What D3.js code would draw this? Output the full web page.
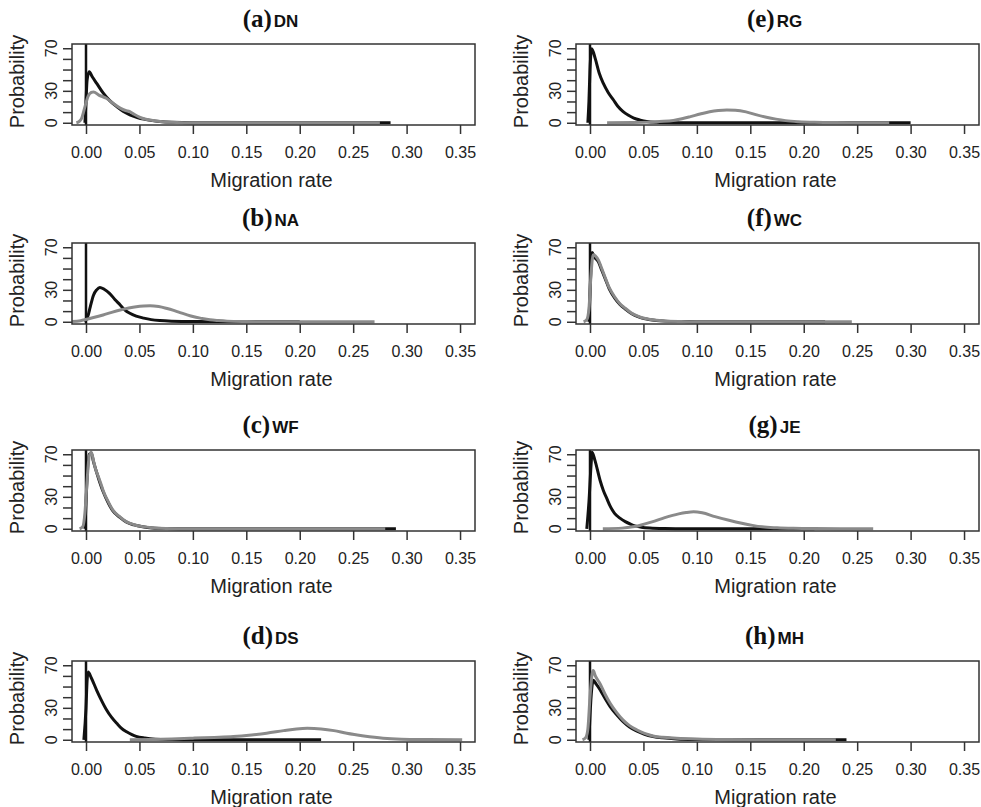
<!DOCTYPE html>
<html>
<head>
<meta charset="utf-8">
<script src="https://cdn.jsdelivr.net/npm/d3@7"></script>
<style>
  body { margin: 0; background: #fff; }
  svg { display: block; }
  .tick line { stroke: #333; stroke-width: 1.5; }
  .tick text { font-family: "Liberation Sans", Arial, sans-serif; font-size: 16px; fill: #222; }
  .lab { font-family: "Liberation Sans", Arial, sans-serif; font-size: 20px; fill: #222; }
</style>
</head>
<body>
<svg id="chart" width="981" height="807"></svg>
<script>
// panel order: left column a-d, right column e-h
var panelLetters = ["a", "b", "c", "d", "e", "f", "g", "h"];
var panelCodes = ["DN", "NA", "WF", "DS", "RG", "WC", "JE", "MH"];

var xTicks = [0, 0.05, 0.10, 0.15, 0.20, 0.25, 0.30, 0.35];
var yTicks = [0, 10, 20, 30, 40, 50, 60, 70];
var yTickLabels = [0, 30, 70];

// [migration rate, probability density]
var dnBlack = [[-0.001,0],[0.000,20],[0.001,40],[0.003,48],[0.006,43],[0.010,37],[0.016,28],[0.022,21],[0.029,15],[0.035,10.5],[0.041,7.5],[0.048,5],[0.054,3.4],[0.062,2],[0.069,1.2],[0.080,0.5],[0.100,0.1],[0.285,0]];
var dnGray = [[-0.009,0],[-0.006,1.5],[-0.004,4.4],[-0.001,15],[0.002,25],[0.005,28.5],[0.007,29],[0.012,26],[0.019,23],[0.025,18.5],[0.032,13.7],[0.037,11.5],[0.041,10.5],[0.045,8],[0.050,5.3],[0.056,3.3],[0.063,2.1],[0.072,1],[0.085,0.3],[0.100,0.1],[0.275,0]];

var naBlack = [[-0.001,0],[0.002,6],[0.004,14],[0.007,25],[0.010,30],[0.013,32.3],[0.017,30.5],[0.022,26.7],[0.027,21],[0.032,15.8],[0.036,11.5],[0.041,8],[0.047,5.3],[0.054,3.4],[0.061,2],[0.069,1.1],[0.080,0.5],[0.100,0.15],[0.200,0]];
var naGray = [[-0.013,0.3],[-0.005,1],[0.0006,2.4],[0.008,4.2],[0.016,6.4],[0.024,8.8],[0.032,11],[0.040,12.9],[0.047,14.2],[0.054,14.9],[0.060,15.1],[0.068,14.3],[0.075,12.7],[0.082,10.7],[0.088,8.6],[0.094,6.7],[0.100,4.9],[0.108,3.2],[0.116,1.8],[0.124,1.1],[0.132,0.6],[0.150,0.2],[0.170,0],[0.270,0]];

var wfBlack = [[-0.001,0],[0.003,70],[0.005,71],[0.007,63],[0.0115,48],[0.016,35],[0.021,24],[0.025,17],[0.032,10.5],[0.038,6.2],[0.045,3.6],[0.053,1.9],[0.062,0.8],[0.075,0.3],[0.100,0.05],[0.290,0]];
var wfGray = [[-0.006,0],[-0.003,2],[-0.001,15],[0.001,45],[0.003,68],[0.005,72],[0.007,64],[0.009,56],[0.0115,49],[0.014,42],[0.016,36],[0.021,25],[0.025,17.7],[0.032,11],[0.038,6.5],[0.045,3.8],[0.053,2],[0.062,0.9],[0.075,0.3],[0.100,0.05],[0.280,0]];

var dsBlack = [[-0.002,0],[0.000,30],[0.001,55],[0.002,63.6],[0.005,58],[0.010,46.5],[0.014,38],[0.019,28.5],[0.024,21],[0.029,15.2],[0.033,11],[0.038,7.5],[0.043,4.8],[0.047,3.2],[0.055,1.6],[0.065,0.6],[0.080,0.2],[0.100,0],[0.220,0]];
var dsGray = [[0.041,0],[0.060,0.3],[0.080,0.8],[0.100,1.5],[0.120,2.2],[0.138,3],[0.155,4.5],[0.169,6.1],[0.185,8.6],[0.197,10.2],[0.207,10.8],[0.220,10.2],[0.232,8.6],[0.244,6.1],[0.260,3.6],[0.278,1.5],[0.295,0.6],[0.320,0.2],[0.352,0]];

var rgBlack = [[-0.002,0],[-0.001,20],[0.000,50],[0.0016,69.6],[0.005,60],[0.0085,47],[0.0125,37],[0.017,28.5],[0.022,21.4],[0.026,15.5],[0.031,10.5],[0.036,7],[0.041,4.4],[0.047,2.5],[0.053,1.2],[0.062,0.5],[0.080,0.1],[0.100,0],[0.300,0]];
var rgGray = [[0.016,0],[0.040,0.2],[0.055,0.6],[0.065,1.2],[0.078,2.2],[0.086,3.8],[0.094,5.8],[0.103,8.2],[0.112,10.4],[0.120,11.6],[0.128,12.1],[0.136,11.8],[0.146,10.2],[0.156,7.4],[0.165,5.2],[0.174,3.4],[0.183,2],[0.195,1],[0.210,0.4],[0.230,0.15],[0.280,0]];

var wcBlack = [[-0.001,0],[0.0005,40],[0.002,65],[0.004,61],[0.008,56],[0.011,48.5],[0.014,41],[0.018,31],[0.023,22.5],[0.028,16.3],[0.033,12],[0.038,8.2],[0.042,6],[0.048,3.7],[0.055,2.2],[0.062,1.2],[0.070,0.6],[0.085,0.2],[0.100,0.05],[0.220,0]];
var wcGray = [[-0.006,0],[-0.003,2],[-0.001,12],[0.001,45],[0.003,63],[0.005,62],[0.008,57.7],[0.011,50],[0.014,42],[0.018,32],[0.023,23.5],[0.028,17],[0.033,12.7],[0.038,8.8],[0.042,6.4],[0.048,4],[0.055,2.4],[0.062,1.4],[0.070,0.8],[0.085,0.3],[0.100,0.1],[0.245,0]];

var jeBlack = [[-0.003,0],[-0.001,25],[0.001,60],[0.002,72],[0.0047,64],[0.0094,45.6],[0.0125,36],[0.0157,28.5],[0.019,21],[0.023,14.5],[0.028,10],[0.033,6.7],[0.038,4.3],[0.042,2.7],[0.048,1.5],[0.056,0.7],[0.070,0.2],[0.090,0],[0.210,0]];
var jeGray = [[0.012,0],[0.030,0.6],[0.040,1.8],[0.048,3.6],[0.058,6.5],[0.070,10.5],[0.083,14],[0.090,15.3],[0.097,16],[0.105,15],[0.117,11.4],[0.130,8],[0.142,5.2],[0.152,3.2],[0.161,1.8],[0.175,0.9],[0.190,0.4],[0.210,0.15],[0.265,0]];

var mhBlack = [[-0.001,0],[0.001,40],[0.003,55.8],[0.006,52],[0.0094,47],[0.014,39],[0.019,31],[0.025,23.5],[0.031,17],[0.037,12],[0.044,8.2],[0.051,5.2],[0.059,3.1],[0.068,1.8],[0.081,0.8],[0.100,0.3],[0.130,0.05],[0.240,0]];
var mhGray = [[-0.007,0],[-0.004,2],[-0.002,10],[0.000,40],[0.002,62],[0.003,65],[0.005,60],[0.0094,52.7],[0.014,43],[0.019,34],[0.025,25.5],[0.031,18.5],[0.037,13.3],[0.044,9.2],[0.051,6],[0.059,3.6],[0.068,2.3],[0.081,1.5],[0.100,0.8],[0.130,0.3],[0.160,0.1],[0.230,0]];

var blackSeries = [dnBlack, naBlack, wfBlack, dsBlack, rgBlack, wcBlack, jeBlack, mhBlack];
var graySeries = [dnGray, naGray, wfGray, dsGray, rgGray, wcGray, jeGray, mhGray];

// layout
var colLeft = [72, 576];
var rowTop = [44, 243, 450, 661];
var boxW = 403, boxH = 81;

var svg = d3.select("#chart");

panelLetters.forEach(function(letter, i){
	var left = colLeft[Math.floor(i / 4)];
	var top = rowTop[i % 4];

	var xScale = d3.scaleLinear()
				.domain([-0.0131, 0.364])
				.range([0, boxW]);
	var yScale = d3.scaleLinear()
				.domain([-2.1, 74])
				.range([boxH, 0]);

	var g = svg.append("g")
		.attr("transform", "translate(" + left + "," + top + ")");

	g.append("clipPath")
		.attr("id", "clip" + i)
		.append("rect")
		.attr("width", boxW)
		.attr("height", boxH);

	// x axis
	var xAxis = d3.axisBottom(xScale)
				.tickValues(xTicks)
				.tickSize(9)
				.tickPadding(13)
				.tickFormat(d3.format(".2f"));
	var xa = g.append("g")
		.attr("transform", "translate(0," + boxH + ")")
		.call(xAxis);
	xa.select(".domain").remove();

	// y axis, labels rotated like R's default
	var yAxis = d3.axisLeft(yScale)
				.tickValues(yTicks)
				.tickSize(9)
				.tickFormat("");
	var ya = g.append("g").call(yAxis);
	ya.select(".domain").remove();

	g.selectAll(".ylab")
		.data(yTickLabels)
		.enter().append("text")
		.attr("class", "ylab")
		.attr("transform", function(d){ return "translate(-15," + yScale(d) + ") rotate(-90)"; })
		.attr("text-anchor", "middle")
		.style("font-family", "Liberation Sans, Arial, sans-serif")
		.style("font-size", "16px")
		.style("fill", "#222")
		.text(function(d){ return d; });

	var plot = g.append("g").attr("clip-path", "url(#clip" + i + ")");

	var line = d3.line()
		.x(function(d){ return xScale(d[0]); })
		.y(function(d){ return yScale(d[1]); })
		.curve(d3.curveMonotoneX);

	// spike of the black density at zero runs off the top
	plot.append("line")
		.attr("x1", xScale(0)).attr("x2", xScale(0))
		.attr("y1", yScale(-2.1)).attr("y2", yScale(74))
		.attr("stroke", "#111")
		.attr("stroke-width", 2.5);

	plot.append("path")
		.datum(blackSeries[i])
		.attr("d", line)
		.attr("fill", "none")
		.attr("stroke", "#111")
		.attr("stroke-width", 3)
		.attr("stroke-linejoin", "round");

	plot.append("path")
		.datum(graySeries[i])
		.attr("d", line)
		.attr("fill", "none")
		.attr("stroke", "#8a8a8a")
		.attr("stroke-width", 3)
		.attr("stroke-linejoin", "round");

	g.append("rect")
		.attr("width", boxW)
		.attr("height", boxH)
		.attr("fill", "none")
		.attr("stroke", "#333")
		.attr("stroke-width", 1.5);

	// title: serif letter, sans code
	var title = g.append("text")
		.attr("x", boxW / 2 - 3)
		.attr("y", -17)
		.attr("text-anchor", "middle")
		.style("fill", "#111");
	title.append("tspan")
		.style("font-family", "Liberation Serif, Times New Roman, serif")
		.style("font-weight", "bold")
		.style("font-size", "25px")
		.text("(" + letter + ")");
	title.append("tspan")
		.attr("dx", 2)
		.style("font-family", "Liberation Sans, Arial, sans-serif")
		.style("font-weight", "bold")
		.style("font-size", "17px")
		.text(panelCodes[i]);

	g.append("text")
		.attr("class", "lab")
		.attr("x", boxW / 2 - 2)
		.attr("y", boxH + 62)
		.attr("text-anchor", "middle")
		.text("Migration rate");

	g.append("text")
		.attr("class", "lab")
		.attr("transform", "translate(-48," + (boxH / 2 - 3) + ") rotate(-90)")
		.attr("text-anchor", "middle")
		.text("Probability");
});
</script>
</body>
</html>
